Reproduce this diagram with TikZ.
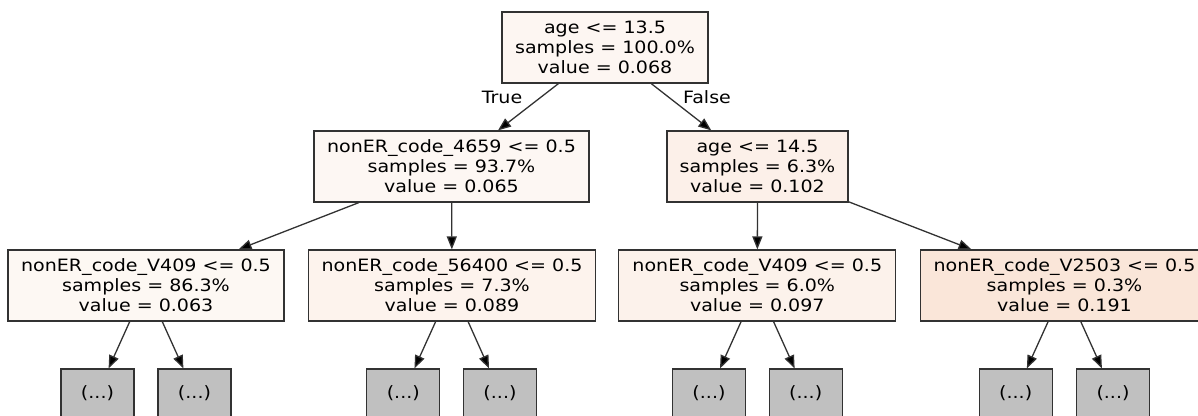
\documentclass[tikz,border=0pt]{standalone}
\usepackage{fontspec}
\newfontfamily\treefont[FakeStretch=1.12]{DejaVu Sans}
\usetikzlibrary{arrows.meta}

% node fills, shaded by predicted value
\definecolor{fillA}{RGB}{253,246,242}  % 0.068
\definecolor{fillB}{RGB}{253,247,243}  % 0.065
\definecolor{fillC}{RGB}{252,240,233}  % 0.102
\definecolor{fillD}{RGB}{253,248,243}  % 0.063
\definecolor{fillE}{RGB}{253,243,237}  % 0.089
\definecolor{fillF}{RGB}{252,242,235}  % 0.097
\definecolor{fillG}{RGB}{250,230,217}  % 0.191
\definecolor{leafgray}{RGB}{192,192,192}
\definecolor{edgegray}{RGB}{50,50,50}

\begin{document}
\begin{tikzpicture}[x=1bp,y=-1bp,
  treetext/.style={font=\treefont\fontsize{17bp}{20bp}\selectfont},
  split/.style={treetext, draw=edgegray, line width=1.2bp, minimum height=71bp,
    inner sep=0pt, align=center},
  leaf/.style={treetext, draw=edgegray, fill=leafgray, line width=1.2bp,
    minimum width=73bp, minimum height=48bp, inner sep=0pt},
  link/.style={draw=edgegray, line width=1.3bp,
    -{Triangle[length=13bp,width=10bp,fill=black]}},
]
\useasboundingbox (0,0) rectangle (1198,415);
\clip (0,0) rectangle (1198,415);

% split nodes
\node[split, fill=fillA, minimum width=206bp] (root) at (605,47.5)
  {age <= 13.5\\samples = 100.0\%\\value = 0.068};
\node[split, fill=fillB, minimum width=275bp] (l) at (451.5,166.5)
  {nonER\_code\_4659 <= 0.5\\samples = 93.7\%\\value = 0.065};
\node[split, fill=fillC, minimum width=181bp] (r) at (757.5,166.5)
  {age <= 14.5\\samples = 6.3\%\\value = 0.102};
\node[split, fill=fillD, minimum width=276bp] (ll) at (146,285.5)
  {nonER\_code\_V409 <= 0.5\\samples = 86.3\%\\value = 0.063};
\node[split, fill=fillE, minimum width=287bp] (lr) at (452,285.5)
  {nonER\_code\_56400 <= 0.5\\samples = 7.3\%\\value = 0.089};
\node[split, fill=fillF, minimum width=277bp] (rl) at (757.3,285.5)
  {nonER\_code\_V409 <= 0.5\\samples = 6.0\%\\value = 0.097};
\node[split, fill=fillG, minimum width=288bp] (rr) at (1064.5,285.5)
  {nonER\_code\_V2503 <= 0.5\\samples = 0.3\%\\value = 0.191};

% truncated subtrees
\node[leaf] (ll1) at (97.5,393) {(...)};
\node[leaf] (ll2) at (194.5,393) {(...)};
\node[leaf] (lr1) at (403.3,393) {(...)};
\node[leaf] (lr2) at (500,393) {(...)};
\node[leaf] (rl1) at (709,393) {(...)};
\node[leaf] (rl2) at (805.7,393) {(...)};
\node[leaf] (rr1) at (1015.7,393) {(...)};
\node[leaf] (rr2) at (1113,393) {(...)};

% edges
\draw[link] (root) -- (l);
\draw[link] (root) -- (r);
\draw[link] (l) -- (ll);
\draw[link] (l) -- (lr);
\draw[link] (r) -- (rl);
\draw[link] (r) -- (rr);
\foreach \p in {ll,lr,rl,rr}{
  \draw[link] (\p) -- (\p1);
  \draw[link] (\p) -- (\p2);
}

% branch labels
\node[treetext] (truelbl) at (502,97) {True};
\node[treetext] (falselbl) at (707,97) {False};
\end{tikzpicture}
\end{document}
